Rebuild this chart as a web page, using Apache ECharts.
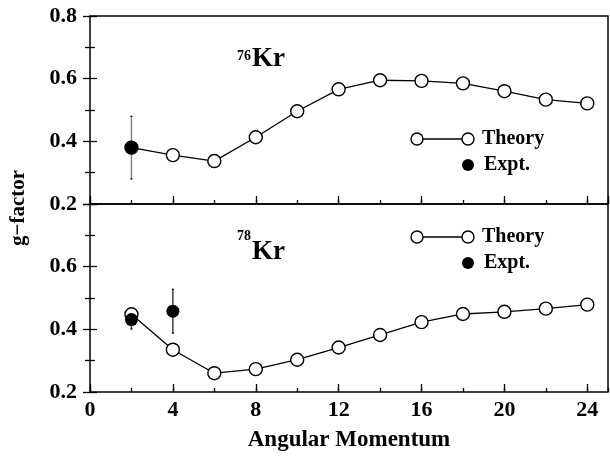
<!DOCTYPE html>
<html><head><meta charset="utf-8">
<script src="https://cdn.jsdelivr.net/npm/echarts@6/dist/echarts.min.js"></script>
<style>html,body{margin:0;padding:0;background:#fff}#c{width:610px;height:456px}</style>
</head><body><div id="c"></div>
<script>
const spins = [2, 4, 6, 8, 10, 12, 14, 16, 18, 20, 22, 24];
const theory76 = [0.380, 0.356, 0.337, 0.413, 0.496, 0.566, 0.595, 0.593, 0.585, 0.560, 0.533, 0.521];
const theory78 = [0.448, 0.335, 0.260, 0.273, 0.303, 0.342, 0.382, 0.423, 0.449, 0.456, 0.466, 0.479];
const expt76X = [2];
const expt76Y = [0.380];
const expt76Err = [0.100];
const expt78X = [2, 4];
const expt78Y = [0.431, 0.458];
const expt78Err = [0.030, 0.070];
const xTickLabels = ['0', '4', '8', '12', '16', '20', '24'];
const yTickLabels = ['0.2', '0.4', '0.6', '0.8'];

const FONT = '"Liberation Serif", "DejaVu Serif", serif';
const chart = echarts.init(document.getElementById('c'));

function pairs(xs, ys) { return xs.map((x, i) => [x, ys[i]]); }
function errData(xs, ys, es) { return xs.map((x, i) => [x, ys[i] - es[i], ys[i] + es[i]]); }

function xMajor(gi, showLabels) {
  return {
    gridIndex: gi, type: 'value', min: 0, max: 25, interval: 4, position: 'bottom',
    axisLine: { show: false },
    axisTick: { show: true, inside: true, length: 8, lineStyle: { color: '#000', width: 1.3 } },
    axisLabel: { show: showLabels, showMaxLabel: false, color: '#000', fontFamily: FONT, fontWeight: 'bold', fontSize: 22, margin: 7,
      formatter: v => xTickLabels.includes(String(v)) ? String(v) : '' },
    splitLine: { show: false }
  };
}
function xMinor(gi) {
  return {
    gridIndex: gi, type: 'value', min: 0, max: 25, interval: 2, position: 'bottom',
    axisLine: { show: false },
    axisTick: { show: true, inside: true, length: 4, lineStyle: { color: '#000', width: 1.3 } },
    axisLabel: { show: false }, splitLine: { show: false }
  };
}
function yAx(gi, pos, showLabels, showMax) {
  return {
    gridIndex: gi, type: 'value', min: 0.2, max: 0.8, interval: 0.2, position: pos,
    axisLine: { show: false },
    axisTick: { show: true, inside: true, length: 7, lineStyle: { color: '#000', width: 1.3 } },
    minorTick: { show: true, splitNumber: 2, length: 5, lineStyle: { color: '#000', width: 1.3 } },
    axisLabel: { show: showLabels, showMaxLabel: showMax, color: '#000', fontFamily: FONT, fontWeight: 'bold', fontSize: 22, margin: 13,
      formatter: v => { const s = v.toFixed(1); return yTickLabels.includes(s) ? s : ''; } },
    splitLine: { show: false }, minorSplitLine: { show: false }
  };
}

function errSeries(xi, yi, data, color) {
  return {
    type: 'custom', xAxisIndex: xi, yAxisIndex: yi, z: 2, silent: true,
    data: data,
    renderItem: (params, api) => {
      const p1 = api.coord([api.value(0), api.value(1)]);
      const p2 = api.coord([api.value(0), api.value(2)]);
      return { type: 'group', children: [
        { type: 'line', shape: { x1: p1[0], y1: p1[1], x2: p2[0], y2: p2[1] }, style: { stroke: color, lineWidth: 1.4 } },
        { type: 'line', shape: { x1: p1[0] - 1, y1: p1[1], x2: p1[0] + 1, y2: p1[1] }, style: { stroke: '#000', lineWidth: 1.2 } },
        { type: 'line', shape: { x1: p2[0] - 1, y1: p2[1], x2: p2[0] + 1, y2: p2[1] }, style: { stroke: '#000', lineWidth: 1.2 } }
      ] };
    }
  };
}
function theorySeries(xi, yi, ys) {
  return {
    name: 'Theory', type: 'line', xAxisIndex: xi, yAxisIndex: yi, z: 3,
    data: pairs(spins, ys), symbol: 'circle', symbolSize: 13, showAllSymbol: true,
    lineStyle: { color: '#000', width: 1.3 },
    itemStyle: { color: '#fff', borderColor: '#000', borderWidth: 1.4, opacity: 1 }
  };
}
function exptSeries(xi, yi, xs, ys) {
  return {
    name: 'Expt.', type: 'scatter', xAxisIndex: xi, yAxisIndex: yi, z: 4,
    data: pairs(xs, ys), symbol: 'circle', symbolSize: 13,
    itemStyle: { color: '#000', opacity: 1 }
  };
}

function legendGraphics(yT, yE) {
  return [
    { type: 'line', shape: { x1: 417, y1: yT, x2: 468, y2: yT }, style: { stroke: '#000', lineWidth: 1.3 }, z: 10 },
    { type: 'circle', shape: { cx: 417, cy: yT, r: 6 }, style: { fill: '#fff', stroke: '#000', lineWidth: 1.4 }, z: 11 },
    { type: 'circle', shape: { cx: 468, cy: yT, r: 6 }, style: { fill: '#fff', stroke: '#000', lineWidth: 1.4 }, z: 11 },
    { type: 'text', x: 482, y: yT, style: { text: 'Theory', font: 'bold 20px ' + FONT, fill: '#000', textAlign: 'left', textVerticalAlign: 'middle', verticalAlign: 'middle' }, z: 11 },
    { type: 'circle', shape: { cx: 468, cy: yE, r: 6 }, style: { fill: '#000' }, z: 11 },
    { type: 'text', x: 484, y: yE, style: { text: 'Expt.', font: 'bold 20px ' + FONT, fill: '#000', textAlign: 'left', textVerticalAlign: 'middle', verticalAlign: 'middle' }, z: 11 }
  ];
}
function isoLabel(mass, ySup, yMain) {
  return [
    { type: 'text', x: 251, y: ySup, style: { text: mass, font: 'bold 14px ' + FONT, fill: '#000', textAlign: 'right', textVerticalAlign: 'middle', verticalAlign: 'middle' }, z: 11 },
    { type: 'text', x: 252, y: yMain, style: { text: 'Kr', font: 'bold 27px ' + FONT, fill: '#000', textAlign: 'left', textVerticalAlign: 'middle', verticalAlign: 'middle' }, z: 11 }
  ];
}

chart.setOption({
  animation: false,
  backgroundColor: '#fff',
  grid: [
    { left: 90, right: 2, top: 16, height: 188, show: true, borderColor: '#000', borderWidth: 1.5, backgroundColor: 'transparent' },
    { left: 90, right: 2, top: 204, height: 188, show: true, borderColor: '#000', borderWidth: 1.5, backgroundColor: 'transparent' }
  ],
  xAxis: [xMajor(0, false), xMinor(0), xMajor(1, true), xMinor(1)],
  yAxis: [yAx(0, 'left', true, true), yAx(0, 'right', false, true), yAx(1, 'left', true, false), yAx(1, 'right', false, false)],
  series: [
    errSeries(0, 0, errData(expt76X, expt76Y, expt76Err), '#808080'),
    theorySeries(0, 0, theory76),
    exptSeries(0, 0, expt76X, expt76Y),
    errSeries(2, 2, errData(expt78X, expt78Y, expt78Err), '#333'),
    theorySeries(2, 2, theory78),
    exptSeries(2, 2, expt78X, expt78Y)
  ],
  graphic: [
    ...legendGraphics(139, 165),
    ...legendGraphics(237, 263),
    ...isoLabel('76', 56, 59),
    ...isoLabel('78', 236, 252),
    { type: 'text', x: 349, y: 440, style: { text: 'Angular Momentum', font: 'bold 23px ' + FONT, fill: '#000', textAlign: 'center', textVerticalAlign: 'middle', verticalAlign: 'middle' } },
    { type: 'text', x: 19, y: 208, rotation: Math.PI / 2, style: { text: 'g\u2212factor', font: 'bold 21px ' + FONT, fill: '#000', textAlign: 'center', textVerticalAlign: 'middle', verticalAlign: 'middle' } }
  ]
});
</script></body></html>
